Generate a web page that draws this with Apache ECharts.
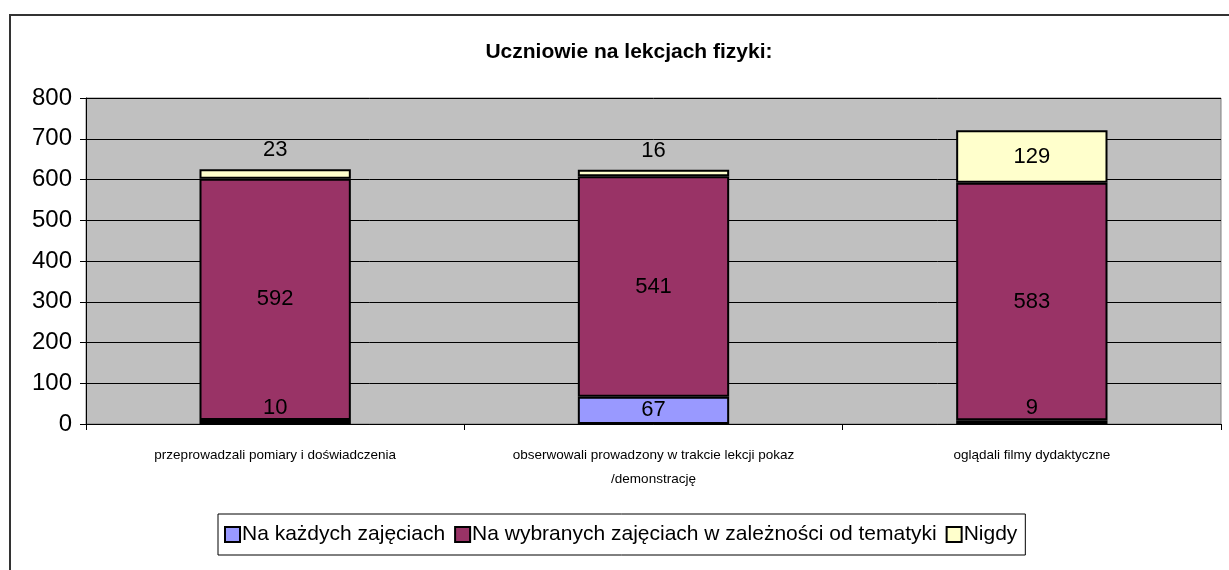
<!DOCTYPE html>
<html>
<head>
<meta charset="utf-8">
<script src="https://cdn.jsdelivr.net/npm/echarts@6/dist/echarts.min.js"></script>
<style>
html,body{margin:0;padding:0;background:#fff;}
#chart{width:1229px;height:570px;}
</style>
</head>
<body>
<div id="chart"></div>
<script>
const title = "Uczniowie na lekcjach fizyki:";
const categories = [
  "przeprowadzali pomiary i doświadczenia",
  "obserwowali prowadzony w trakcie lekcji pokaz\n/demonstrację",
  "oglądali filmy dydaktyczne"
];
const seriesNames = ["Na każdych zajęciach", "Na wybranych zajęciach w zależności od tematyki", "Nigdy"];
const valsEvery = [10, 67, 9];
const valsSelected = [592, 541, 583];
const valsNever = [23, 16, 129];
const yTicks = [0, 100, 200, 300, 400, 500, 600, 700, 800];

const colors = ["#9999FF", "#993366", "#FFFFCC"];
const FONT = "Liberation Sans";

function buildData(vals, smallPos, smallDist) {
  return vals.map(v => {
    if (v < 40) {
      return { value: v, label: { position: smallPos, distance: smallDist } };
    }
    return { value: v };
  });
}

const chart = echarts.init(document.getElementById('chart'), null, {renderer: 'canvas'});
const labelBase = { show: true, position: 'inside', color: '#000', fontFamily: FONT, fontSize: 22 };

chart.setOption({
  backgroundColor: '#fff',
  animation: false,
  title: {
    text: title, left: 624, top: 37, textAlign: 'center',
    textStyle: { fontFamily: FONT, fontWeight: 'bold', fontSize: 21, color: '#000' }
  },
  graphic: [{
    type: 'rect', shape: { x: 10, y: 15, width: 1240, height: 600 },
    style: { fill: 'none', stroke: '#333', lineWidth: 2 }, silent: true, z: -1
  }],
  legend: {
    data: seriesNames, left: 218, top: 514,
    orient: 'horizontal', icon: 'rect',
    itemWidth: 15, itemHeight: 15, itemGap: 9,
    padding: [10, 8, 10, 6],
    borderColor: '#000', borderWidth: 1, backgroundColor: '#fff',
    textStyle: { fontFamily: FONT, fontSize: 21, color: '#000', padding: [0, 0, 0, -3] }
  },
  grid: {
    left: 86, top: 98, right: 8, bottom: 146,
    show: true, backgroundColor: '#C0C0C0', borderColor: '#808080', borderWidth: 1
  },
  xAxis: {
    type: 'category', data: categories,
    axisLine: { show: true, lineStyle: { color: '#000', width: 1 } },
    axisTick: { show: true, length: 6, lineStyle: { color: '#000' } },
    axisLabel: { fontFamily: FONT, fontSize: 13.5, color: '#000', margin: 19, lineHeight: 24, interval: 0 }
  },
  yAxis: {
    type: 'value', min: 0, max: 800, interval: 100,
    axisLine: { show: true, lineStyle: { color: '#000', width: 1 } },
    axisTick: { show: true, length: 6, lineStyle: { color: '#000' } },
    axisLabel: { fontFamily: FONT, fontSize: 24, color: '#000', margin: 14,
      formatter: v => yTicks.includes(v) ? String(v) : '' },
    splitLine: { show: true, lineStyle: { color: '#000', width: 1 } }
  },
  series: [
    {
      name: seriesNames[0], type: 'bar', stack: 'a', barWidth: '40%',
      data: buildData(valsEvery, 'top', 1),
      itemStyle: { color: colors[0], borderColor: '#000', borderWidth: 2 },
      label: labelBase
    },
    {
      name: seriesNames[1], type: 'bar', stack: 'a', barWidth: '40%',
      data: buildData(valsSelected, 'inside', 0),
      itemStyle: { color: colors[1], borderColor: '#000', borderWidth: 2 },
      label: labelBase
    },
    {
      name: seriesNames[2], type: 'bar', stack: 'a', barWidth: '40%',
      data: buildData(valsNever, 'top', 8),
      itemStyle: { color: colors[2], borderColor: '#000', borderWidth: 2 },
      label: labelBase
    }
  ]
});
</script>
</body>
</html>
